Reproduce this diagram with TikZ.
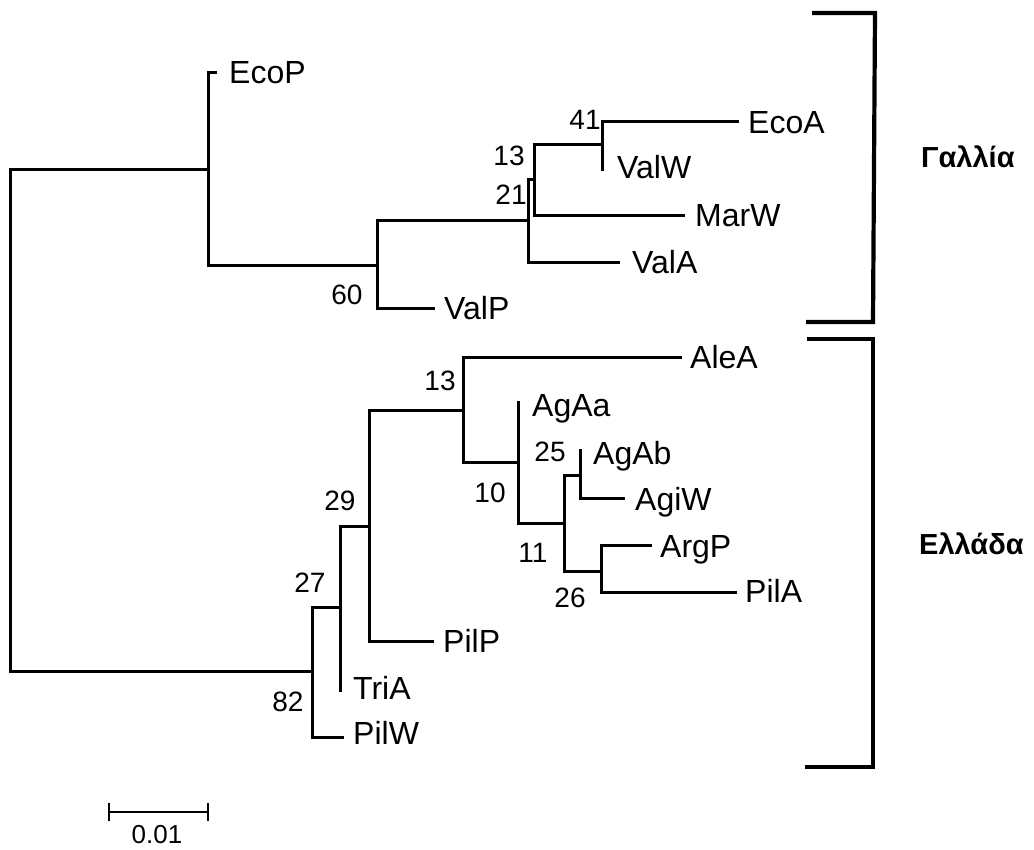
\documentclass[tikz,border=0pt]{standalone}
\usepackage{fontspec}
\setmainfont{Liberation Sans}
\begin{document}
\begin{tikzpicture}[x=1pt,y=-1pt,
  br/.style={line width=3pt, line cap=rect, line join=miter},
  leaf/.style={anchor=base west, inner sep=0pt, font=\fontsize{32}{36}\selectfont},
  boot/.style={inner sep=0pt, font=\fontsize{28}{32}\selectfont},
  grp/.style={anchor=base west, inner sep=0pt, font=\fontsize{29}{34}\selectfont\bfseries},
  bracket/.style={line width=4.2pt, line join=miter}]
\useasboundingbox (0,0) rectangle (1034,850);
% junctions
\coordinate (root) at (10,420);
\coordinate (jEco) at (208,170);
\coordinate (j60) at (377,266);
\coordinate (j21) at (528,221);
\coordinate (j13) at (534,180);
\coordinate (j41) at (602,145);
\coordinate (j82) at (312,671);
\coordinate (j27) at (340,607);
\coordinate (j29) at (369,526);
\coordinate (j13b) at (463,410);
\coordinate (j10) at (518,462);
\coordinate (j11) at (564,523);
\coordinate (j25) at (580,475);
\coordinate (j26) at (601,571);
% leaf tips
\coordinate (lEcoP) at (215,73);
\coordinate (lValP) at (433,309);
\coordinate (lValA) at (618,263);
\coordinate (lMarW) at (683,216);
\coordinate (lEcoA) at (737,122);
\coordinate (lValW) at (602,170);
\coordinate (lPilW) at (342,737);
\coordinate (lTriA) at (340,690);
\coordinate (lPilP) at (432,641);
\coordinate (lAleA) at (680,358);
\coordinate (lAgAa) at (518,403);
\coordinate (lAgAb) at (580,450);
\coordinate (lAgiW) at (623,498);
\coordinate (lArgP) at (650,545);
\coordinate (lPilA) at (735,592);
% branches
\draw[br] (jEco) -| (root) |- (j82);
\draw[br] (lEcoP) -| (jEco) |- (j60);
\draw[br] (j21) -| (j60) |- (lValP);
\draw[br] (j13) -| (j21) |- (lValA);
\draw[br] (j41) -| (j13) |- (lMarW);
\draw[br] (lEcoA) -| (j41) |- (lValW);
\draw[br] (j27) -| (j82) |- (lPilW);
\draw[br] (j29) -| (j27) |- (lTriA);
\draw[br] (j13b) -| (j29) |- (lPilP);
\draw[br] (lAleA) -| (j13b) |- (j10);
\draw[br] (lAgAa) -| (j10) |- (j11);
\draw[br] (j25) -| (j11) |- (j26);
\draw[br] (lAgAb) -| (j25) |- (lAgiW);
\draw[br] (lArgP) -| (j26) |- (lPilA);
% leaf labels
\node[leaf] (tEcoP) at (229,84) {EcoP};
\node[leaf] (tEcoA) at (748,134) {EcoA};
\node[leaf] (tValW) at (617,179) {ValW};
\node[leaf] (tMarW) at (695,227) {MarW};
\node[leaf] (tValA) at (632,274) {ValA};
\node[leaf] (tValP) at (444,320) {ValP};
\node[leaf] (tAleA) at (690,369) {AleA};
\node[leaf] (tAgAa) at (532,417) {AgAa};
\node[leaf] (tAgAb) at (593,464) {AgAb};
\node[leaf] (tAgiW) at (635,510) {AgiW};
\node[leaf] (tArgP) at (660,557) {ArgP};
\node[leaf] (tPilA) at (745,602) {PilA};
\node[leaf] (tPilP) at (443,652) {PilP};
\node[leaf] (tTriA) at (353,699) {TriA};
\node[leaf] (tPilW) at (353,744) {PilW};
% bootstrap values
\node[boot] (b41) at (585,120) {41};
\node[boot] (b13) at (509,156) {13};
\node[boot] (b21) at (511,195) {21};
\node[boot] (b60) at (347,295) {60};
\node[boot] (b13b) at (440,381) {13};
\node[boot] (b25) at (550,452) {25};
\node[boot] (b10) at (490,493) {10};
\node[boot] (b29) at (340,501) {29};
\node[boot] (b11) at (533,553) {11};
\node[boot] (b27) at (310,583) {27};
\node[boot] (b26) at (570,598) {26};
\node[boot] (b82) at (288,702) {82};
% group brackets
\draw[bracket] (812,13) -- (875,13) -- (873,322) -- (806,322);
\draw[bracket] (807,339) -- (873,339) -- (873,767) -- (805,767);
\node[grp] (gFr) at (921,168) {Γαλλία};
\node[grp] (gGr) at (919,554) {Ελλάδα};
% scale bar
\draw[line width=1.6pt] (109,812) -- (208,812);
\draw[line width=1.6pt] (109,803) -- (109,821);
\draw[line width=1.6pt] (208,803) -- (208,821);
\node[inner sep=0pt, font=\fontsize{26}{30}\selectfont] (sc) at (157,835) {0.01};
\end{tikzpicture}
\end{document}
